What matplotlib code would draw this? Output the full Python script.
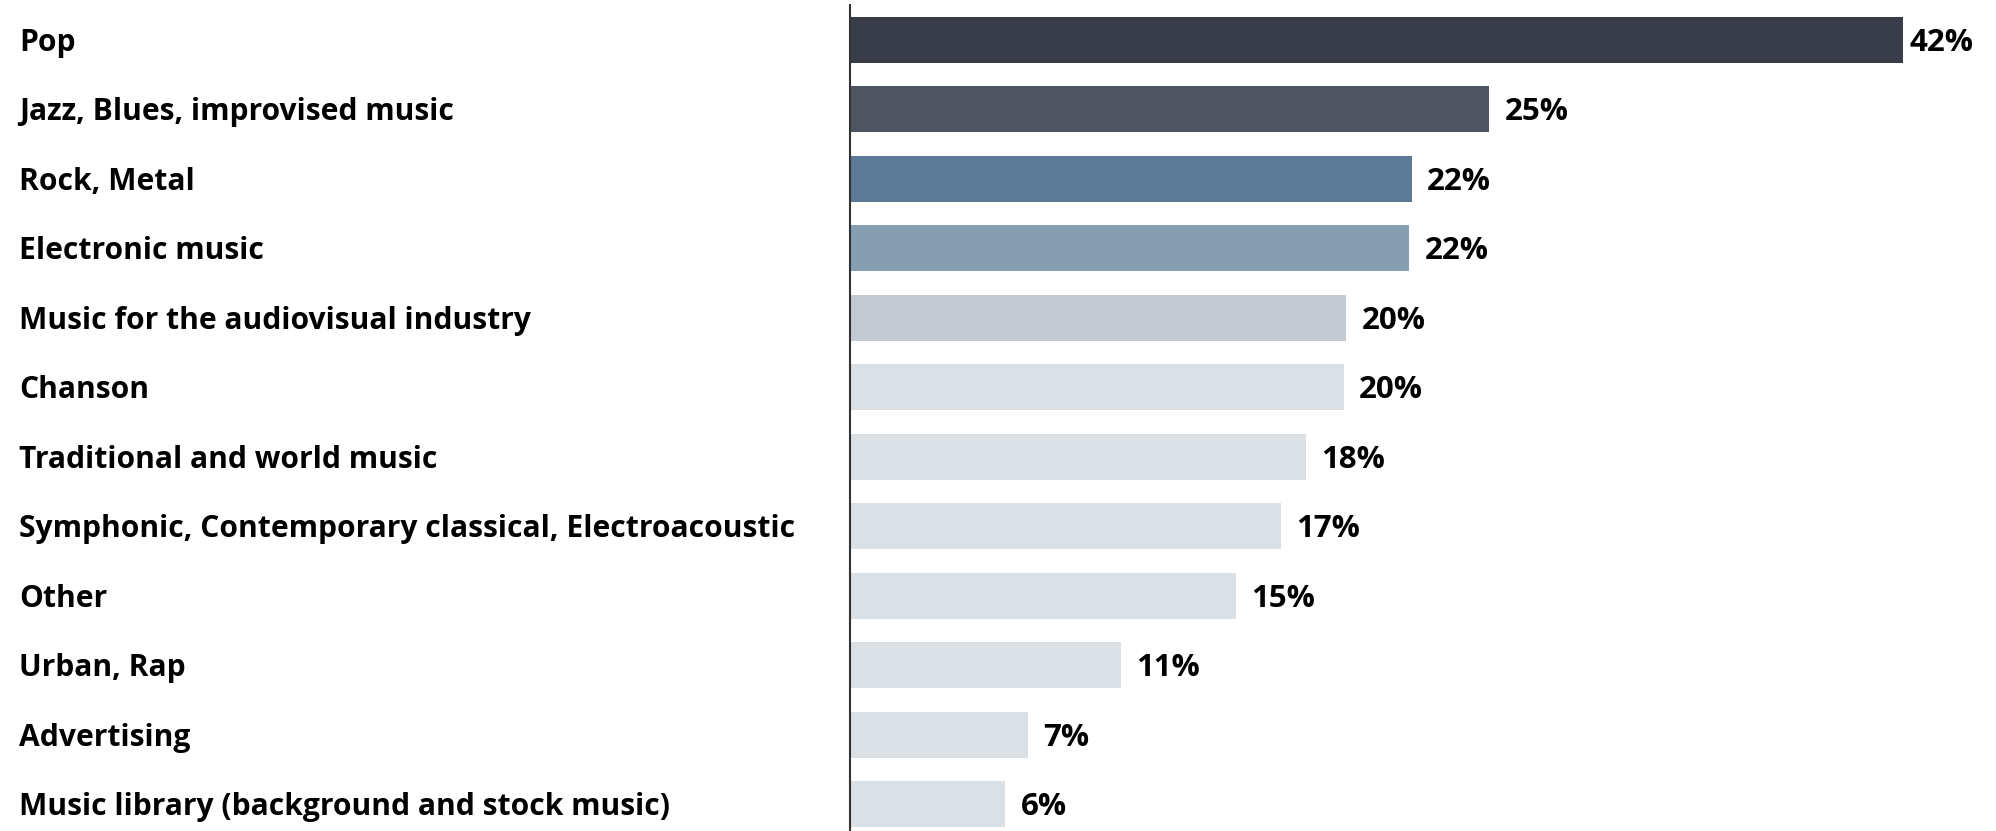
import matplotlib.pyplot as plt

# Categorias (de arriba a abajo) y valores en %
generos = [
    "Pop",
    "Jazz, Blues, improvised music",
    "Rock, Metal",
    "Electronic music",
    "Music for the audiovisual industry",
    "Chanson",
    "Traditional and world music",
    "Symphonic, Contemporary classical, Electroacoustic",
    "Other",
    "Urban, Rap",
    "Advertising",
    "Music library (background and stock music)",
]
valores = [42.0, 25.5, 22.4, 22.3, 19.8, 19.7, 18.2, 17.2, 15.4, 10.8, 7.1, 6.2]
etiquetas = ["42%", "25%", "22%", "22%", "20%", "20%", "18%", "17%", "15%", "11%", "7%", "6%"]
colores = ["#393d4a", "#4f5562", "#5c7995", "#879db0", "#c3cad1"] + ["#dbe0e4"] * 7

plt.rcParams['font.family'] = ['Open Sans', 'DejaVu Sans']

fig = plt.figure(figsize=(19.96, 8.31), dpi=100)
ax = fig.add_axes([850 / 1996, -0.0096, 1 - 850 / 1996, 1.0036])

posiciones = list(range(len(generos)))
ax.barh(posiciones, valores, height=0.66, color=colores)

# Etiquetas de valor al final de cada barra
for p, v, txt in zip(posiciones, valores, etiquetas):
    dx = 5 if p == 0 else 11  # el primero queda pegado al borde
    ax.annotate(txt, (v, p), xytext=(dx, -2), textcoords="offset points",
                va="center", ha="left", fontsize=22.5, fontweight="bold", color="black")

# Nombres de las categorias alineados a la izquierda de la figura
for p, g in zip(posiciones, generos):
    ax.annotate(g, (19 / 1996, p), xycoords=(fig.transFigure, ax.transData),
                xytext=(0, -2), textcoords="offset points",
                fontsize=21.6, fontweight="bold", va="center", ha="left")

ax.set_ylim(len(generos) - 0.5, -0.5)
ax.set_xlim(0, 42 * 1146 / 1053)
ax.set_xticks([])
ax.set_yticks([])
for lado in ["top", "right", "bottom"]:
    ax.spines[lado].set_visible(False)
ax.spines["left"].set_color("#333333")
ax.spines["left"].set_linewidth(1.5)

fig.savefig("out.png", dpi=100)
